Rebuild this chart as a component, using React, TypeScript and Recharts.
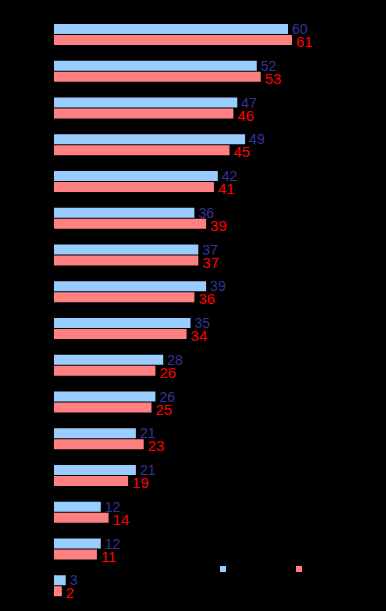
import React from 'react';
import { BarChart, Bar, XAxis, YAxis, LabelList } from 'recharts';

const categories = ['1', '2', '3', '4', '5', '6', '7', '8', '9', '10', '11', '12', '13', '14', '15', '16'];
const seriesA = [60, 52, 47, 49, 42, 36, 37, 39, 35, 28, 26, 21, 21, 12, 12, 3];
const seriesB = [61, 53, 46, 45, 41, 39, 37, 36, 34, 26, 25, 23, 19, 14, 11, 2];
const seriesNames = ['Series A', 'Series B'];
const seriesColors = ['#99ccff', '#ff8080'];

const data = categories.map((c, i) => ({ name: c, a: seriesA[i], b: seriesB[i] }));

const FONT = '"Liberation Sans", Arial, sans-serif';

if (typeof document !== 'undefined') {
  document.body.style.background = '#000';
}

const makeLabel = (color: string, size: number, dy: number) => (props: any) => {
  const { x, y, width, height, value } = props;
  return (
    <text
      x={Number(x) + Number(width) + 4}
      y={Number(y) + Number(height) / 2 + dy}
      fill={color}
      fontSize={size}
      fontFamily={FONT}
      dominantBaseline="central"
      textAnchor="start"
    >
      {value}
    </text>
  );
};

const legendX = [212, 288];

export default function App() {
  return (
    <div style={{ background: '#000', width: 378, height: 603, position: 'relative' }}>
      <BarChart
        width={378}
        height={603}
        data={data}
        layout="vertical"
        margin={{ top: 8, right: 59, bottom: 7, left: 46 }}
        barGap={1}
        barCategoryGap={0}
      >
        <XAxis type="number" domain={[0, 70]} hide />
        <YAxis type="category" dataKey="name" hide />
        <Bar dataKey="a" name={seriesNames[0]} fill={seriesColors[0]} barSize={10} isAnimationActive={false}>
          <LabelList dataKey="a" content={makeLabel('#333399', 14, 0)} />
        </Bar>
        <Bar dataKey="b" name={seriesNames[1]} fill={seriesColors[1]} barSize={10} isAnimationActive={false}>
          <LabelList dataKey="b" content={makeLabel('#ff0000', 15, 1.5)} />
        </Bar>
      </BarChart>
      {seriesNames.map((n, i) => (
        <div key={n} style={{ position: 'absolute', left: legendX[i], top: 558, display: 'flex', alignItems: 'center', height: 6 }}>
          <div style={{ width: 6, height: 6, background: seriesColors[i] }} />
          <span style={{ color: '#000', fontSize: 11, fontFamily: FONT, marginLeft: 4 }}>{n}</span>
        </div>
      ))}
    </div>
  );
}
